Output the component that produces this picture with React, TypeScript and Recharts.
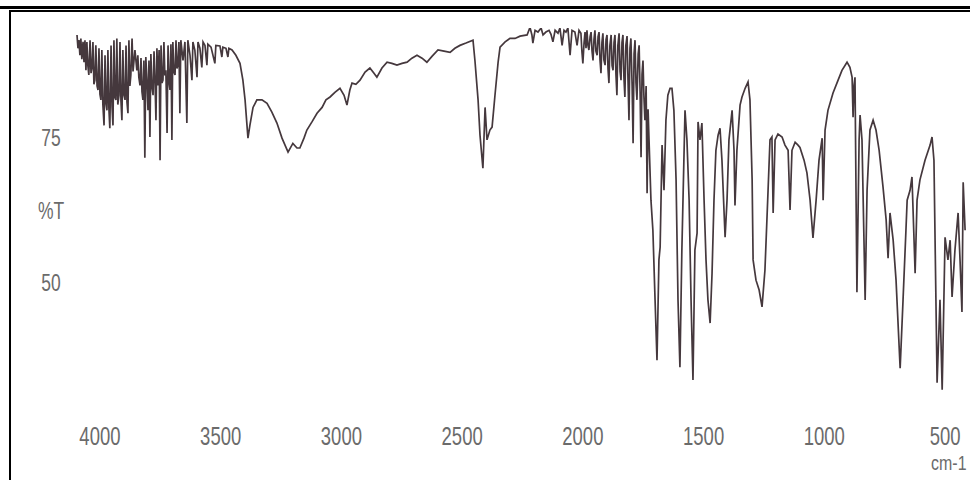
import { Line, LineChart, XAxis, YAxis } from 'recharts'

// [wavenumber cm-1, %T], left to right
const ohStretchRegion: [number, number][] = [
  [4095, 92.8], [4091, 90.5], [4087, 91.9], [4083, 89.3], [4079, 92.2], [4075, 88.6],
  [4070, 91.6], [4066, 88.1], [4062, 91.9], [4058, 86.7], [4054, 91.6], [4050, 87.5],
  [4046, 85.9], [4041, 91.9], [4037, 86.2], [4033, 87.1], [4029, 91.6], [4025, 84.3],
  [4021, 85.0], [4017, 91.0], [4012, 84.0], [4008, 83.3], [4004, 90.5], [4000, 82.6],
  [3996, 81.6], [3992, 90.2], [3988, 80.9], [3983, 77.2], [3979, 89.3], [3975, 81.0],
  [3971, 79.8], [3967, 90.2], [3963, 80.2], [3959, 76.7], [3954, 91.0], [3950, 80.5],
  [3946, 77.2], [3942, 91.9], [3938, 82.0], [3934, 81.6], [3930, 92.2], [3926, 80.8],
  [3921, 82.4], [3917, 91.6], [3913, 81.5], [3909, 78.1], [3905, 90.2], [3901, 82.5],
  [3896, 81.6], [3892, 91.0], [3888, 81.2], [3884, 79.3], [3880, 91.9], [3876, 84.0],
  [3872, 85.9], [3867, 92.2], [3863, 86.5], [3859, 88.4], [3855, 90.2],
  [3847, 86.7], [3843, 89.3], [3839, 85.5], [3834, 84.1], [3830, 88.8], [3826, 83.0],
  [3822, 81.6], [3818, 88.4], [3814, 71.6], [3810, 89.0], [3805, 84.5], [3801, 79.8],
  [3797, 88.4], [3793, 75.2], [3789, 89.5], [3785, 84.0], [3780, 82.4], [3776, 90.0],
  [3772, 85.0], [3768, 78.1], [3764, 90.5], [3760, 84.1], [3755, 90.2], [3751, 71.2],
  [3747, 91.0], [3743, 84.5], [3739, 85.0], [3735, 91.6], [3731, 85.8], [3727, 86.7],
  [3722, 75.9], [3718, 91.0], [3714, 84.8], [3710, 83.3], [3706, 91.2], [3702, 74.7],
  [3698, 91.6], [3694, 86.5], [3689, 85.9], [3685, 91.9], [3681, 87.0], [3677, 87.6],
  [3673, 91.6], [3669, 79.3], [3665, 91.9], [3656, 88.4], [3648, 91.6], [3640, 77.6],
  [3636, 91.9], [3627, 89.3], [3619, 85.0], [3615, 91.6], [3607, 90.2], [3598, 85.5],
  [3594, 91.6], [3586, 90.5], [3578, 87.2], [3573, 91.6], [3565, 91.0], [3557, 87.6],
  [3553, 91.2], [3540, 90.7], [3524, 87.9], [3520, 91.0], [3503, 90.9], [3495, 89.0],
  [3491, 90.7], [3478, 90.5], [3470, 89.0], [3466, 90.5], [3453, 90.2], [3437, 89.3],
  [3420, 87.9],
]

const broadRegion: [number, number][] = [
  [3408, 85.0], [3399, 81.6], [3391, 77.2], [3387, 75.0], [3379, 77.2], [3366, 80.3],
  [3350, 81.6], [3329, 81.6], [3308, 81.0], [3288, 79.5], [3267, 77.6], [3246, 75.0],
  [3221, 72.6], [3201, 74.1], [3184, 73.3], [3172, 73.3], [3155, 75.0], [3143, 76.4],
  [3122, 77.8], [3101, 79.3], [3080, 80.3], [3064, 81.6], [3047, 82.1], [3027, 82.9],
  [3006, 83.6], [2989, 82.4], [2977, 80.7], [2965, 83.3], [2956, 84.5], [2940, 84.3],
  [2923, 85.0], [2902, 86.4], [2882, 87.1], [2865, 86.2], [2853, 85.5], [2832, 87.1],
  [2811, 88.1], [2791, 87.9], [2770, 87.6], [2749, 87.9], [2728, 88.1], [2708, 88.8],
  [2687, 89.3], [2666, 88.8], [2646, 88.1], [2625, 89.1], [2600, 90.2], [2575, 90.0],
  [2550, 89.8], [2530, 90.5], [2509, 91.0], [2484, 91.4], [2455, 91.9],
]

const overtoneRegion: [number, number][] = [
  [2447, 88.4], [2434, 81.6], [2426, 75.5], [2414, 69.8], [2405, 80.3], [2397, 74.7],
  [2385, 76.4], [2376, 76.9], [2364, 82.4], [2351, 88.1], [2343, 90.7], [2322, 91.6],
  [2302, 92.2], [2281, 92.2], [2260, 92.6], [2231, 92.8], [2219, 94.1], [2211, 92.8],
  [2207, 91.4], [2198, 93.6], [2186, 93.3], [2173, 94.0], [2165, 92.8], [2153, 93.3],
  [2140, 93.6], [2132, 92.9], [2124, 91.6], [2115, 93.6], [2103, 93.1], [2095, 94.0],
  [2086, 91.0], [2078, 93.6], [2070, 93.3], [2062, 94.0], [2053, 89.3], [2045, 93.6],
  [2033, 93.3], [2024, 91.0], [2016, 93.6], [2008, 93.1], [2004, 90.0], [2000, 87.9],
  [1995, 91.5], [1991, 93.3], [1987, 90.5], [1983, 93.6], [1979, 91.0], [1975, 90.2],
  [1970, 92.5], [1966, 93.3], [1962, 90.0], [1958, 88.4], [1954, 92.0], [1950, 93.6],
  [1946, 90.0], [1941, 89.3], [1937, 92.5], [1933, 93.3], [1929, 88.5], [1925, 86.2],
  [1921, 91.5], [1917, 93.1], [1913, 88.5], [1908, 87.6], [1904, 92.0], [1900, 92.8],
  [1896, 87.0], [1892, 84.5], [1888, 91.0], [1883, 92.8], [1879, 87.5], [1875, 86.7],
  [1871, 91.5], [1867, 92.8], [1863, 86.0], [1859, 82.4], [1855, 91.0], [1850, 93.1],
  [1846, 86.5], [1842, 85.0], [1838, 91.5], [1834, 92.8], [1830, 85.5], [1826, 82.1],
  [1822, 91.0], [1817, 92.6], [1813, 85.0], [1809, 78.1], [1805, 90.5], [1801, 92.2],
  [1796, 84.0], [1792, 74.1], [1788, 89.5], [1784, 91.9], [1780, 84.5], [1776, 81.6],
  [1771, 89.5], [1767, 91.0], [1763, 83.0], [1759, 71.7], [1755, 86.0], [1751, 88.4],
  [1747, 82.0], [1743, 78.1], [1738, 84.0], [1734, 65.5], [1730, 80.0], [1726, 74.7],
]

const fingerprintRegion: [number, number][] = [
  [1718, 64.3], [1710, 59.1], [1701, 47.1], [1693, 36.7], [1685, 54.0], [1680, 56.2],
  [1672, 73.8], [1664, 66.0], [1656, 78.1], [1648, 82.4], [1639, 83.6], [1631, 83.6],
  [1623, 79.8], [1614, 67.8], [1606, 47.1], [1598, 35.5], [1590, 55.7], [1577, 79.8],
  [1569, 74.7], [1560, 64.3], [1552, 47.1], [1544, 33.3], [1536, 55.7], [1527, 58.6],
  [1523, 77.8], [1515, 74.7], [1507, 77.6], [1498, 64.3], [1490, 54.0], [1482, 47.1],
  [1473, 43.1], [1465, 51.7], [1457, 64.3], [1449, 72.9], [1440, 75.5], [1432, 76.7],
  [1424, 71.2], [1411, 57.9], [1403, 64.3], [1395, 74.7], [1382, 79.8], [1374, 72.9],
  [1370, 63.4], [1362, 72.9], [1349, 80.7], [1341, 82.1], [1328, 83.6], [1316, 84.7],
  [1308, 81.6], [1299, 67.8], [1295, 54.0], [1283, 50.5], [1270, 48.8], [1258, 45.9],
  [1246, 52.2], [1233, 66.0], [1225, 74.7], [1217, 75.2], [1212, 62.1], [1204, 74.7],
  [1192, 75.7], [1175, 75.2], [1163, 73.8], [1150, 72.9], [1142, 62.6], [1134, 72.9],
  [1121, 74.3], [1109, 73.8], [1101, 73.4], [1084, 71.2], [1072, 69.0], [1059, 64.3],
  [1047, 57.8], [1034, 64.3], [1022, 71.2], [1009, 75.0], [1005, 64.3], [997, 76.4],
  [985, 79.8], [964, 82.8], [943, 85.0], [927, 86.7], [906, 88.1], [894, 87.2],
  [885, 85.5], [881, 78.6], [877, 84.1], [873, 85.5], [865, 48.4], [856, 74.7],
  [852, 79.0], [844, 74.7], [831, 47.1], [823, 66.0], [811, 76.4], [798, 78.1],
  [786, 76.4], [773, 72.9], [757, 66.6], [744, 60.9], [736, 54.3], [728, 62.1],
  [715, 57.4], [703, 50.5], [686, 35.3], [674, 47.1], [662, 59.1], [657, 64.3],
  [645, 66.0], [637, 68.3], [624, 51.7], [616, 64.3], [604, 67.8], [583, 71.2],
  [562, 73.8], [554, 75.2], [546, 71.2], [533, 32.8], [521, 47.1], [512, 31.6],
  [500, 57.9], [488, 54.0], [479, 57.4], [471, 47.6], [459, 55.7], [446, 62.1],
  [438, 54.0], [430, 45.0], [425, 67.4], [417, 59.1],
]

const xTicks = [4000, 3500, 3000, 2500, 2000, 1500, 1000, 500]
const yTicks = [50, 62.5, 75]
const yLabels: Record<number, string> = { 50: '50', 62.5: '%T', 75: '75' }

const spectrum = [...ohStretchRegion, ...broadRegion, ...overtoneRegion, ...fingerprintRegion].map(
  ([wn, t]) => ({ wn, t })
)

const labelFont = "'Liberation Sans', Arial, sans-serif"
const labelColor = '#6b6b6b'

function XTick({ x, y, payload }: any) {
  return (
    <g>
      <text
        transform={`translate(${x},${y + 38}) scale(0.74,1)`}
        textAnchor="middle"
        fontFamily={labelFont}
        fontSize={25}
        fill={labelColor}
      >
        {payload.value}
      </text>
      {payload.value === 500 && (
        <text
          transform={`translate(${x - 14},${y + 63}) scale(0.76,1)`}
          fontFamily={labelFont}
          fontSize={21}
          fill={labelColor}
        >
          cm-1
        </text>
      )}
    </g>
  )
}

function YTick({ y, payload }: any) {
  return (
    <text
      transform={`translate(51,${y + 8}) scale(0.76,1)`}
      textAnchor="middle"
      fontFamily={labelFont}
      fontSize={23}
      fill={labelColor}
    >
      {yLabels[payload.value]}
    </text>
  )
}

export default function App() {
  return (
    <div style={{ position: 'fixed', left: 0, top: 0, width: 970, height: 480, background: '#fff' }}>
      {/* scanned frame */}
      <div style={{ position: 'absolute', left: 0, top: 6, width: 970, height: 3, background: '#000' }} />
      <div style={{ position: 'absolute', left: 9, top: 10, width: 961, height: 2, background: '#000' }} />
      <div style={{ position: 'absolute', left: 9, top: 10, width: 2, height: 470, background: '#000' }} />
      <LineChart
        width={970}
        height={480}
        data={spectrum}
        margin={{ top: 28, right: 2, bottom: 21, left: 0 }}
      >
        <XAxis
          dataKey="wn"
          type="number"
          domain={[405, 4124]}
          reversed
          allowDataOverflow
          ticks={xTicks}
          interval={0}
          axisLine={false}
          tickLine={false}
          height={60}
          tick={<XTick />}
        />
        <YAxis
          type="number"
          domain={[30, 94]}
          allowDataOverflow
          ticks={yTicks}
          interval={0}
          axisLine={false}
          tickLine={false}
          width={70}
          tick={<YTick />}
        />
        <Line
          dataKey="t"
          type="linear"
          stroke="#45383d"
          strokeWidth={1.7}
          dot={false}
          isAnimationActive={false}
        />
      </LineChart>
    </div>
  )
}
